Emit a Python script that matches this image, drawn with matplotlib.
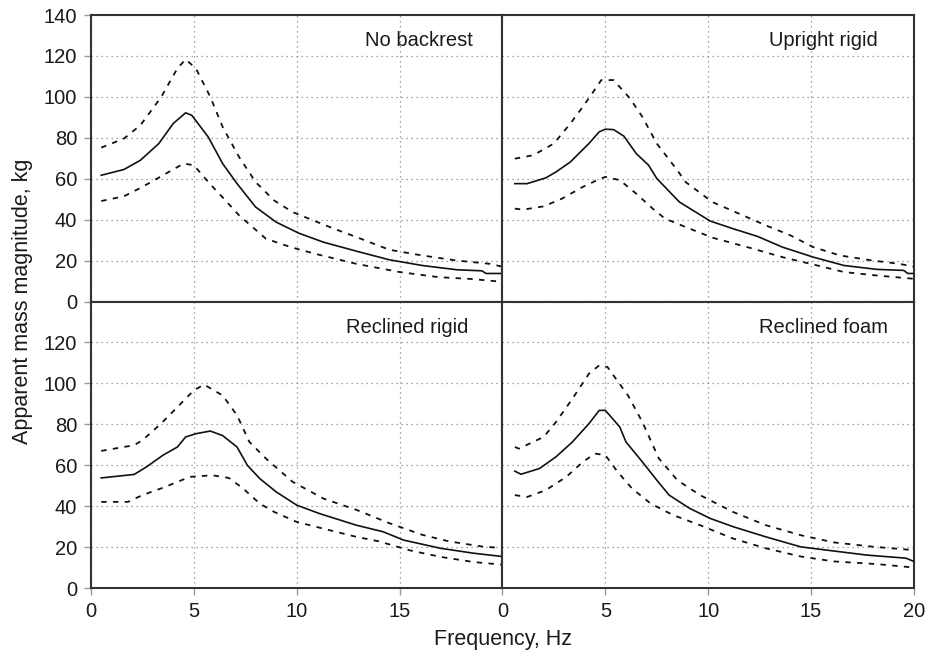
import matplotlib
matplotlib.use("Agg")
import matplotlib.pyplot as plt

plt.rcParams['font.family'] = ['Liberation Sans', 'DejaVu Sans']

# ---------------- data ----------------
titles = ["No backrest", "Upright rigid", "Reclined rigid", "Reclined foam"]

# No backrest
nb_mean_f = [0.5, 1.6, 2.4, 3.3, 4.0, 4.6, 4.9, 5.7, 6.4, 7.1, 8.0, 9.0, 10.1, 11.3, 12.9, 14.5, 16.1, 17.8, 19.0, 19.2, 20.0]
nb_mean_m = [61.7, 64.5, 69.0, 77.2, 87.0, 92.2, 91.0, 80.4, 67.4, 57.6, 46.2, 38.8, 33.4, 29.0, 24.6, 20.4, 17.6, 15.5, 15.0, 13.7, 13.7]
nb_up_f = [0.5, 1.6, 2.4, 3.4, 4.2, 4.6, 5.1, 5.8, 6.4, 7.2, 8.0, 8.9, 9.8, 11.8, 12.9, 14.5, 16.1, 17.8, 19.4, 20.0]
nb_up_m = [75.2, 79.6, 86.1, 99.7, 113.9, 118.3, 113.9, 100.0, 85.3, 70.6, 58.4, 49.4, 43.7, 35.6, 31.5, 25.3, 22.5, 20.0, 18.4, 17.0]
nb_lo_f = [0.5, 1.6, 2.5, 3.5, 4.5, 5.0, 5.7, 6.5, 7.2, 8.5, 9.7, 10.9, 12.9, 15.0, 16.9, 18.5, 19.8, 20.0]
nb_lo_m = [49.1, 51.4, 56.0, 61.7, 67.4, 66.6, 58.4, 49.8, 42.1, 30.7, 26.6, 23.3, 18.4, 14.4, 11.9, 11.0, 9.8, 9.8]

# Upright rigid
ur_mean_f = [0.6, 1.2, 2.1, 2.6, 3.3, 4.2, 4.7, 5.0, 5.4, 5.9, 6.5, 7.1, 7.5, 8.6, 10.1, 11.2, 12.4, 13.6, 15.1, 16.6, 18.2, 19.5, 19.7, 20.0]
ur_mean_m = [57.6, 57.6, 60.4, 63.3, 68.2, 77.2, 82.9, 84.2, 84.0, 80.8, 72.3, 66.6, 60.1, 48.6, 39.3, 35.6, 31.8, 26.6, 21.7, 17.6, 15.7, 15.2, 13.7, 13.7]
ur_up_f = [0.6, 1.5, 2.5, 3.3, 3.9, 4.3, 4.8, 5.4, 6.2, 6.8, 7.5, 8.5, 8.9, 10.2, 11.5, 12.8, 14.0, 15.1, 16.4, 18.0, 19.3, 20.0]
ur_up_m = [69.8, 71.5, 77.2, 87.0, 95.1, 100.8, 108.2, 108.2, 99.2, 90.2, 77.2, 64.1, 58.4, 48.6, 42.9, 37.2, 32.3, 26.6, 22.5, 20.0, 18.4, 17.0]
ur_lo_f = [0.6, 1.0, 2.0, 2.9, 3.9, 4.6, 5.0, 5.7, 6.5, 7.3, 7.9, 8.9, 10.2, 12.0, 13.6, 15.1, 16.6, 18.2, 20.0]
ur_lo_m = [45.4, 44.9, 46.5, 50.3, 56.0, 59.3, 60.9, 59.3, 52.7, 45.4, 40.5, 36.4, 31.2, 26.3, 21.7, 18.1, 14.4, 12.7, 11.1]

# Reclined rigid
rr_mean_f = [0.5, 2.1, 2.7, 3.5, 4.2, 4.6, 5.1, 5.8, 6.4, 7.1, 7.6, 8.2, 9.0, 10.0, 11.1, 12.9, 14.2, 15.2, 17.0, 18.6, 20.0]
rr_mean_m = [53.8, 55.5, 59.2, 64.9, 68.9, 73.8, 75.4, 76.7, 74.5, 68.9, 60.0, 53.5, 47.0, 40.5, 36.4, 30.7, 27.5, 23.4, 19.4, 17.0, 15.4]
rr_up_f = [0.5, 2.1, 2.5, 3.4, 4.2, 5.0, 5.5, 6.4, 7.1, 7.7, 8.5, 9.8, 11.3, 12.9, 14.5, 16.1, 17.4, 19.0, 20.0]
rr_up_m = [67.0, 69.8, 72.2, 80.3, 88.4, 96.6, 99.4, 94.1, 84.4, 71.4, 63.3, 51.9, 43.7, 38.2, 31.7, 26.0, 22.8, 20.3, 19.5]
rr_lo_f = [0.5, 1.8, 2.5, 3.5, 4.8, 5.9, 6.7, 7.4, 8.2, 8.9, 10.0, 11.3, 12.9, 14.0, 15.5, 17.0, 18.6, 20.0]
rr_lo_m = [42.1, 42.1, 45.4, 49.0, 54.3, 55.1, 53.8, 48.6, 41.3, 37.2, 32.3, 29.0, 25.0, 22.8, 18.4, 15.2, 12.7, 11.4]

# Reclined foam
rf_mean_f = [0.6, 0.9, 1.8, 2.6, 3.4, 4.2, 4.7, 5.0, 5.7, 6.0, 6.8, 7.5, 8.1, 9.1, 10.1, 11.2, 12.8, 14.5, 16.1, 17.7, 19.6, 20.0]
rf_mean_m = [57.1, 55.6, 58.4, 64.1, 71.4, 80.3, 86.8, 86.8, 78.7, 71.4, 61.6, 52.7, 45.4, 38.9, 34.0, 30.0, 25.0, 20.1, 18.1, 16.1, 14.6, 13.0]
rf_up_f = [0.6, 0.8, 2.0, 2.6, 3.4, 4.2, 4.7, 5.1, 6.1, 6.8, 7.6, 8.5, 9.6, 11.2, 12.8, 14.5, 16.1, 18.0, 20.0]
rf_up_m = [68.9, 68.1, 73.8, 81.1, 92.5, 104.7, 108.8, 108.0, 94.1, 81.1, 63.3, 52.7, 45.4, 37.2, 30.7, 25.8, 22.3, 20.2, 18.5]
rf_lo_f = [0.6, 1.2, 2.1, 3.1, 3.9, 4.5, 5.0, 5.6, 6.3, 7.2, 8.3, 9.6, 11.2, 12.8, 14.5, 16.1, 18.2, 20.0]
rf_lo_m = [45.4, 44.5, 47.8, 54.3, 61.6, 65.7, 64.9, 56.7, 48.6, 41.3, 35.6, 30.7, 24.2, 19.4, 15.4, 13.0, 11.7, 10.0]

x_ticks = [0, 5, 10, 15, 20]
y_ticks = [0, 20, 40, 60, 80, 100, 120, 140]

panels = [
    (nb_mean_f, nb_mean_m, nb_up_f, nb_up_m, nb_lo_f, nb_lo_m),
    (ur_mean_f, ur_mean_m, ur_up_f, ur_up_m, ur_lo_f, ur_lo_m),
    (rr_mean_f, rr_mean_m, rr_up_f, rr_up_m, rr_lo_f, rr_lo_m),
    (rf_mean_f, rf_mean_m, rf_up_f, rf_up_m, rf_lo_f, rf_lo_m),
]
title_x = [0.927, 0.912, 0.917, 0.937]

# ---------------- figure ----------------
fig = plt.figure(figsize=(9.3, 6.61), dpi=100)
gs = fig.add_gridspec(2, 2, left=0.0978, right=0.9828, bottom=0.1104, top=0.9773,
                      wspace=0, hspace=0)
axes = [fig.add_subplot(gs[i // 2, i % 2]) for i in range(4)]

spine_col = "#333333"
fs = 14.5
for i, ax in enumerate(axes):
    mf, mm, uf, um, lf, lm = panels[i]
    ax.plot(mf, mm, color="#111111", lw=1.2, ls="-", zorder=3)
    ax.plot(uf, um, color="#111111", lw=1.3, ls=(0, (3, 3.5)), zorder=3)
    ax.plot(lf, lm, color="#111111", lw=1.3, ls=(0, (3, 3.5)), zorder=3)
    ax.set_xlim(0, 20)
    ax.set_ylim(0, 140)
    ax.set_xticks(x_ticks)
    ax.set_yticks(y_ticks)
    ax.grid(True, color="#888888", ls=(0, (1, 3)), lw=0.9)
    for sp in ax.spines.values():
        sp.set_color(spine_col)
        sp.set_linewidth(1.5)
    ax.tick_params(direction="out", length=5, width=1.0, color="#999999",
                   labelsize=fs, labelcolor="#1a1a1a", pad=5)
    ax.text(title_x[i], 0.91, titles[i], transform=ax.transAxes,
            ha="right", va="center", fontsize=fs, color="#1a1a1a")
    row, col = i // 2, i % 2
    if col == 1:
        ax.tick_params(axis="y", left=False, labelleft=False)
    if row == 0:
        ax.tick_params(axis="x", bottom=False, labelbottom=False)

# hide duplicate labels at the shared boundaries
axes[2].set_yticks(y_ticks[:-1])
axes[2].set_xticks(x_ticks[:-1])

fig.text(0.024, 0.5445, "Apparent mass magnitude, kg", rotation=90,
         ha="center", va="center", fontsize=15.5, color="#1a1a1a")
fig.text(0.5409, 0.032, "Frequency, Hz", ha="center", va="center",
         fontsize=15.5, color="#1a1a1a")

fig.savefig("out.png", dpi=100)
